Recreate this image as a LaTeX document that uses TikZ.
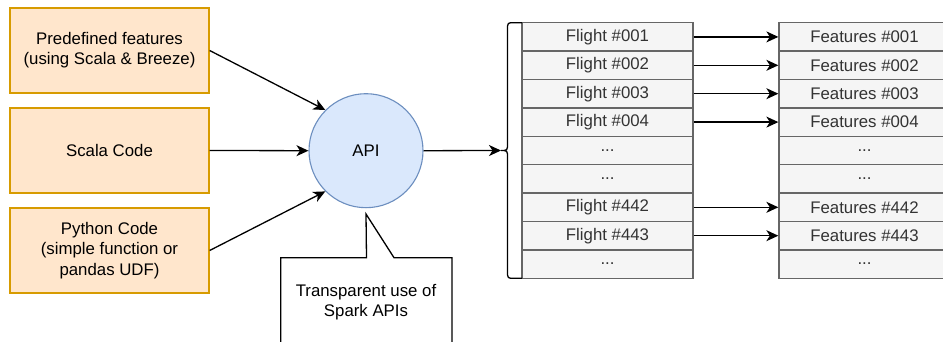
\documentclass[tikz,border=0pt]{standalone}
\usepackage{fontspec}
\setmainfont{Liberation Sans}
\usetikzlibrary{arrows.meta}
\definecolor{orfill}{HTML}{FFE6CC}
\definecolor{ordraw}{HTML}{D79B00}
\definecolor{blfill}{HTML}{DAE8FC}
\definecolor{bldraw}{HTML}{6C8EBF}
\definecolor{cellfill}{HTML}{F5F5F5}
\definecolor{celldraw}{HTML}{666666}
\definecolor{celltext}{HTML}{333333}
\newcommand{\mydots}{...}
\begin{document}
\begin{tikzpicture}[x=1pt,y=-1pt,
  font=\fontsize{16.8}{20.3}\selectfont,
  srcbox/.style={draw=ordraw,fill=orfill,line width=1.3pt,minimum width=199pt,minimum height=85pt,align=center,inner sep=0pt},
  apinode/.style={circle,draw=bldraw,fill=blfill,line width=1.1pt,minimum size=114pt,inner sep=0pt},
  cell/.style={draw=celldraw,fill=cellfill,line width=1.3pt,minimum width=171pt,minimum height=28.4pt,inner sep=0pt,text=celltext},
  arr/.style={-{Stealth[length=12pt,width=11pt,inset=3.5pt]},line width=1.3pt},
  plainline/.style={line width=1.3pt}]
\useasboundingbox (0,0) rectangle (943,342);
\fill[white] (0,0) rectangle (943,342);

% source boxes
\node[srcbox] (pre) at (109.5,50.5) {Predefined features\\(using Scala \& Breeze)};
\node[srcbox] (scala) at (109.5,150.5) {Scala Code};
\node[srcbox] (py) at (109.5,250.5) {Python Code\\(simple function or\\pandas UDF)};

% API
\node[apinode] (api) at (366,150.7) {API};
\draw[arr] (pre.east) -- (api.135);
\draw[arr] (scala.east) -- (api.west);
\draw[arr] (py.east) -- (api.225);

% callout
\coordinate (cbl) at (280.7,350);
\coordinate (ctl) at (280.7,257.7);
\coordinate (cp1) at (366.5,257.7);
\coordinate (ctip) at (366,214);
\coordinate (cp2) at (394,257.7);
\coordinate (ctr) at (452,257.7);
\coordinate (cbr) at (452,350);
\draw[plainline] (cbl) -- (ctl) -- (cp1) -- (ctip) -- (cp2) -- (ctr) -- (cbr);
\node[align=center] (note) at (366,302) {Transparent use of\\Spark APIs};

% tables
\foreach \i/\a/\b in {0/Flight \#001/Features \#001,
                      1/Flight \#002/Features \#002,
                      2/Flight \#003/Features \#003,
                      3/Flight \#004/Features \#004,
                      4/\mydots/\mydots,
                      5/\mydots/\mydots,
                      6/Flight \#442/Features \#442,
                      7/Flight \#443/Features \#443,
                      8/\mydots/\mydots}{
  \node[cell] (f\i) at (607.5,{22.7+28.4*(\i+0.5)}) {\a};
  \node[cell] (g\i) at (864.5,{22.7+28.4*(\i+0.5)}) {\b};
}
\foreach \i in {0,1,2,3,6,7}{
  \draw[arr] (f\i.east) -- (g\i.west);
}

% brace
\coordinate (btop) at (522,22.7);
\coordinate (bbot) at (522,278.3);
\coordinate (tip) at (501,150.5);
\draw[plainline] (btop) -- (514,22.7) .. controls (507.5,22.7) .. (507.5,30)
  -- (507.5,143) .. controls (507.5,150.5) .. (tip)
  .. controls (507.5,150.5) .. (507.5,158) -- (507.5,271)
  .. controls (507.5,278.3) .. (514,278.3) -- (bbot);
\draw[arr] (api.east) -- (tip);
\end{tikzpicture}
\end{document}
